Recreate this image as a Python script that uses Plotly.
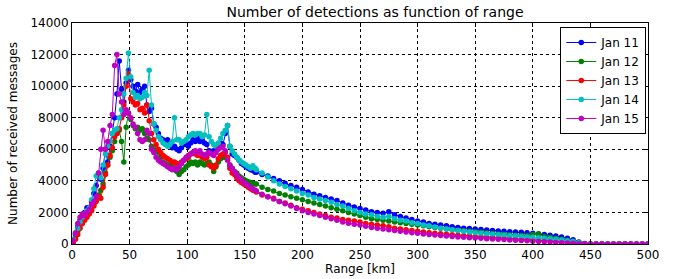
import plotly.graph_objects as go

# Range bins (km): 2 km steps up to 159, then 5 km steps from 160 to 500
range_km = list(range(1, 160, 2)) + list(range(160, 501, 5))

jan11 = [200, 600, 1100, 1500, 1800, 2000, 2300, 2300, 2700, 3200,
         3700, 4400, 4100, 4800, 6000, 5200, 6200, 7000, 8000, 9500,
         11600, 9800, 9000, 10200, 11000, 10400, 10000, 9700, 10100, 9600,
         9800, 10000, 8800, 8400, 8600, 7600, 7400, 7000, 6700, 6600,
         6500, 6600, 6300, 6100, 6200, 6000, 5900, 6100, 6300, 6300,
         6200, 6400, 6600, 6500, 6700, 6500, 6600, 6400, 6300, 5900,
         5800, 5900, 6000, 6300, 6400, 6300, 7000, 7500, 6200, 5700,
         5600, 5500, 5300, 5100, 5000, 4900, 4800, 4700, 4650, 4550,
         4550, 4400, 4300, 4150, 4000, 3850, 3700, 3600, 3450, 3300,
         3150, 3050, 2950, 2850, 2750, 2600, 2450, 2350, 2250, 2150,
         2050, 2000, 1950, 2050, 1850, 1750, 1650, 1550, 1450, 1400,
         1300, 1250, 1200, 1150, 1100, 1050, 1000, 980, 950, 920,
         880, 850, 820, 800, 780, 760, 740, 710, 680, 640,
         600, 560, 500, 440, 360, 270, 130, 30, 0,
         0, 0, 0, 0, 0, 0, 0, 0, 0, 0]

jan12 = [100, 400, 800, 1200, 1500, 1700, 1900, 2000, 2200, 2500,
         2800, 3100, 3400, 3800, 4500, 5000, 5500, 5900, 6500, 7000,
         7200, 6500, 5200, 7400, 8300, 7900, 7500, 7300, 7400, 7200,
         7300, 7000, 6700, 6600, 6200, 6000, 5900, 5800, 5500, 5200,
         5100, 5000, 5000, 4900, 4700, 4600, 4400, 4600, 4700, 4900,
         5000, 5200, 5100, 5200, 5000, 5200, 5100, 5000, 5100, 5200,
         5000, 4600, 4900, 5200, 5400, 5500, 5500, 5400, 5000, 4800,
         4600, 4500, 4300, 4200, 4100, 4000, 3950, 3900, 3850, 3800,
         3800, 3600, 3450, 3350, 3200, 3100, 3000, 2900, 2800, 2700,
         2600, 2500, 2400, 2300, 2200, 2100, 2000, 1900, 1800, 1700,
         1600, 1550, 1500, 1450, 1400, 1350, 1300, 1250, 1200, 1150,
         1100, 1050, 1000, 950, 900, 870, 840, 800, 770, 740,
         700, 670, 640, 610, 580, 560, 540, 520, 600, 650,
         480, 420, 360, 300, 240, 180, 80, 20, 0,
         0, 0, 0, 0, 0, 0, 0, 0, 0, 0]

jan13 = [100, 300, 600, 1000, 1300, 1500, 1700, 1900, 2100, 2400,
         2700, 3000, 2900, 3600, 4400, 5000, 5600, 6100, 6800, 7000,
         7300, 8000, 8800, 10000, 10800, 9200, 9000, 8800, 8900, 8500,
         8600, 8300, 8800, 7800, 7000, 6600, 6300, 6000, 5800, 5600,
         5500, 5400, 5300, 5200, 5200, 5100, 5000, 5200, 5300, 5400,
         5500, 5700, 5800, 5700, 5600, 5600, 5500, 5400, 5500, 5000,
         4900, 4800, 5000, 5400, 5600, 5700, 5800, 5500, 4800, 4500,
         4400, 4200, 4000, 3900, 3800, 3700, 3600, 3500, 3400, 3350,
         3300, 3100, 3000, 2900, 2700, 2600, 2450, 2300, 2200, 2100,
         2000, 1900, 1800, 1700, 1650, 1550, 1500, 1450, 1400, 1300,
         1250, 1200, 1150, 1100, 1000, 950, 900, 850, 800, 760,
         720, 680, 650, 620, 590, 560, 530, 500, 480, 460,
         440, 420, 400, 380, 360, 340, 320, 300, 280, 260,
         230, 200, 170, 140, 110, 70, 30, 10, 0,
         0, 0, 0, 0, 0, 0, 0, 0, 0, 0]

jan14 = [300, 700, 1000, 1400, 1700, 1900, 2100, 2300, 2800, 3500,
         4300, 4500, 4200, 5000, 5700, 6200, 6500, 7000, 7200, 7300,
         8000, 8500, 9500, 10500, 12100, 10600, 9600, 9300, 9400, 9200,
         9300, 9600, 9400, 11000, 8800, 7600, 7200, 6800, 6600, 6400,
         6300, 6200, 6300, 6500, 8000, 6600, 6600, 6400, 6500, 6600,
         6800, 6900, 7000, 6900, 7000, 7000, 6800, 6900, 8200, 6800,
         6500, 6300, 6200, 6400, 6700, 7000, 7200, 7500, 6200, 5900,
         5700, 5500, 5300, 5200, 5100, 5000, 4900, 4800, 4950, 4800,
         4700, 4500, 4250, 4000, 3800, 3650, 3500, 3350, 3200, 3100,
         2950, 2850, 2750, 2650, 2500, 2400, 2250, 2100, 2000, 1900,
         1850, 1750, 1700, 1750, 1600, 1500, 1450, 1350, 1300, 1200,
         1150, 1080, 1000, 950, 900, 850, 800, 760, 720, 680,
         650, 620, 590, 560, 530, 500, 470, 440, 420, 400,
         370, 340, 300, 260, 210, 160, 80, 20, 0,
         0, 0, 0, 0, 0, 0, 0, 0, 0, 0]

jan15 = [200, 700, 1300, 1700, 1900, 1800, 2000, 2200, 2500, 2700,
         3000, 4500, 6000, 7200, 6000, 6500, 7500, 8200, 11300, 12000,
         9500, 9000, 8200, 8500, 8300, 8000, 7600, 7400, 7000, 6600,
         6500, 6600, 7200, 7000, 6000, 5800, 5500, 5300, 5200, 5100,
         5000, 4900, 4800, 4700, 4800, 4700, 4900, 5100, 5300, 5500,
         5600, 5700, 5800, 5900, 5800, 5900, 5700, 5600, 5700, 5800,
         5700, 5600, 5800, 6000, 6100, 6200, 5900, 5300, 5000, 4800,
         4600, 4400, 4200, 4100, 3900, 3800, 3700, 3600, 3500, 3400,
         3350, 3150, 3000, 2850, 2700, 2550, 2400, 2250, 2100, 2000,
         1900, 1800, 1700, 1600, 1500, 1400, 1320, 1250, 1200, 1120,
         1050, 1000, 950, 900, 850, 800, 760, 720, 680, 640,
         600, 570, 540, 510, 480, 450, 420, 400, 380, 360,
         340, 320, 300, 280, 260, 240, 220, 200, 180, 160,
         140, 120, 100, 80, 60, 40, 20, 10, 0,
         0, 0, 0, 0, 0, 0, 0, 0, 0, 0]

series_names = ["Jan 11", "Jan 12", "Jan 13", "Jan 14", "Jan 15"]
series_values = [jan11, jan12, jan13, jan14, jan15]
series_colors = ["#0000ff", "#008000", "#ff0000", "#00bfbf", "#bf00bf"]

x_ticks = [0, 50, 100, 150, 200, 250, 300, 350, 400, 450, 500]
y_ticks = [0, 2000, 4000, 6000, 8000, 10000, 12000, 14000]

fig = go.Figure()
for name, vals, col in zip(series_names, series_values, series_colors):
    fig.add_trace(go.Scatter(
        x=range_km, y=vals, name=name, mode="lines+markers",
        line=dict(color=col, width=1),
        marker=dict(color=col, size=5.5, line=dict(width=0)),
    ))

font_family = "DejaVu Sans"
axis_common = dict(
    showline=True, linecolor="black", linewidth=1, mirror="ticks",
    ticks="inside", ticklen=4, tickcolor="black",
    showgrid=True, gridcolor="black", griddash="dot", gridwidth=1,
    zeroline=False, automargin=False,
    tickfont=dict(size=12, color="black", family=font_family),
)

fig.update_layout(
    width=675, height=279,
    margin=dict(l=72, r=27, t=23, b=35, autoexpand=False),
    paper_bgcolor="white", plot_bgcolor="white",
    font=dict(family=font_family, size=12, color="black"),
    title=dict(text="Number of detections as function of range",
               xref="paper", x=0.526, xanchor="center",
               yref="container", y=0.957, yanchor="middle",
               font=dict(size=14, family=font_family, color="black")),
    showlegend=True,
    legend=dict(x=0.997, y=0.982, xanchor="right", yanchor="top",
                bgcolor="white", bordercolor="black", borderwidth=1,
                font=dict(size=12, family=font_family, color="black"),
                tracegroupgap=0, itemwidth=30),
    xaxis=dict(range=[0, 500], tickvals=x_ticks,
               ticktext=[str(v) for v in x_ticks],
               title=dict(text="Range [km]", standoff=2,
                          font=dict(size=12, family=font_family)),
               **axis_common),
    yaxis=dict(range=[0, 14000], tickvals=y_ticks,
               ticktext=[str(v) for v in y_ticks],
               title=dict(text="Number of received messages", standoff=10,
                          font=dict(size=12, family=font_family)),
               **axis_common),
)

fig.write_html("out.html",
               config={"displayModeBar": False},
               post_script="document.body.style.margin='0';document.body.style.padding='0';")
